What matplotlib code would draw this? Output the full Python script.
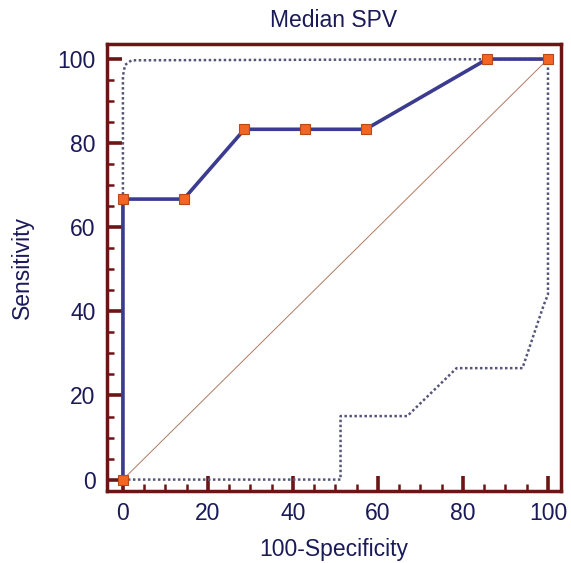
import matplotlib.pyplot as plt
from matplotlib.ticker import MultipleLocator

# ROC curve points (100-Specificity, Sensitivity)
roc_x = [0, 0, 14.3, 28.6, 42.9, 57.1, 85.7, 100]
roc_y = [0, 66.7, 66.7, 83.3, 83.3, 83.3, 100, 100]

# confidence bounds
upper_x = [0, 0, 0.5, 2, 100]
upper_y = [0, 96, 98.6, 99.7, 100]
lower_x = [0, 51.2, 51.2, 66.9, 78.5, 94.0, 97.0, 99.0, 100, 100]
lower_y = [0, 0, 15.1, 15.1, 26.5, 26.5, 35.5, 41.5, 44, 100]

text_col = '#1a1a58'
frame_col = '#6b1515'

plt.rcParams['font.family'] = ['Liberation Sans', 'DejaVu Sans']

fig = plt.figure(figsize=(5.71, 5.63), dpi=100)
ax = fig.add_axes([0.187, 0.128, 0.795, 0.794])

# diagonal reference line
ax.plot([0, 100], [0, 100], color='#b07a60', lw=0.7, zorder=1)

# confidence bounds
ax.plot(upper_x, upper_y, color='#55557a', lw=1.8, ls=(0, (1, 1)), zorder=2)
ax.plot(lower_x, lower_y, color='#55557a', lw=1.8, ls=(0, (1, 1)), zorder=2)

# ROC curve
ax.plot(roc_x, roc_y, color='#3b3b8f', lw=2.6, zorder=3,
        marker='s', markersize=7.5, markerfacecolor='#f26522',
        markeredgecolor='#b84a18', markeredgewidth=0.8)

ax.set_xlim(-3.8, 103.0)
ax.set_ylim(-2.7, 103.6)

ax.xaxis.set_major_locator(MultipleLocator(20))
ax.xaxis.set_minor_locator(MultipleLocator(5))
ax.yaxis.set_major_locator(MultipleLocator(20))
ax.yaxis.set_minor_locator(MultipleLocator(5))

ax.tick_params(which='major', direction='in', length=11, width=2.6,
               color=frame_col, labelsize=16.5, labelcolor=text_col, pad=8)
ax.tick_params(which='minor', direction='in', length=5, width=1.8,
               color=frame_col)

for s in ax.spines.values():
    s.set_color(frame_col)
    s.set_linewidth(2.5)

ax.set_title('Median SPV', fontsize=16.5, color=text_col, pad=12)
ax.set_xlabel('100-Specificity', fontsize=16.5, color=text_col, labelpad=9)
ax.set_ylabel('Sensitivity', fontsize=16.5, color=text_col, labelpad=17)

fig.savefig('out.png', dpi=100)
